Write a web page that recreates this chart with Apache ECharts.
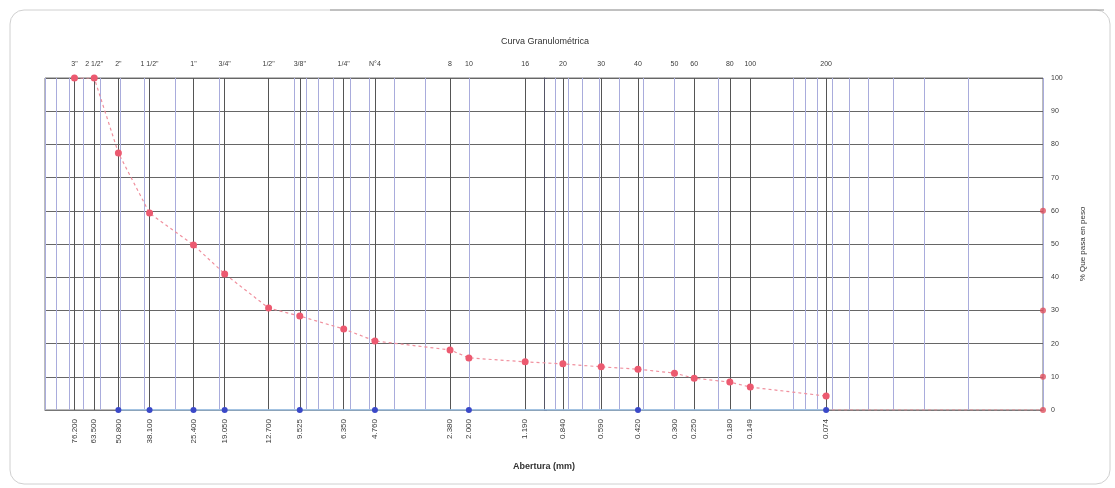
<!DOCTYPE html>
<html>
<head>
<meta charset="utf-8">
<script src="https://cdn.jsdelivr.net/npm/echarts@6/dist/echarts.min.js"></script>
<style>
html,body{margin:0;padding:0;background:#fff;}
#c{width:1115px;height:488px;}
</style>
</head>
<body>
<div id="c"></div>
<script>
// Sieve openings (mm)
const sizes = [76.2, 63.5, 50.8, 38.1, 25.4, 19.05, 12.7, 9.525, 6.35, 4.76, 2.38, 2.0, 1.19, 0.84, 0.59, 0.42, 0.3, 0.25, 0.18, 0.149, 0.074];
// Sieve names (top axis)
const sieveNames = ['3"', '2 1/2"', '2"', '1 1/2"', '1"', '3/4"', '1/2"', '3/8"', '1/4"', 'N°4', '8', '10', '16', '20', '30', '40', '50', '60', '80', '100', '200'];
// % passing (red curve)
const pctPassing = [100, 100, 77.4, 59.3, 49.7, 41, 30.7, 28.3, 24.4, 20.8, 18.1, 15.7, 14.5, 13.9, 13, 12.3, 11.1, 9.6, 8.4, 6.9, 4.2];
// Blue series (sizes and values)
const blueSizes = [50.8, 38.1, 25.4, 19.05, 9.525, 4.76, 2.0, 0.42, 0.074];
const blueValues = [0, 0, 0, 0, 0, 0, 0, 0, 0];
// Reference markers on the right edge
const refSize = 0.01;
const refValues = [60, 30, 10, 0];
// Base line from last sieve to right edge
const baseSizes = [0.074, 0.01];
const baseValues = [0, 0];
// Axis range (mm)
const xMinMm = 0.01, xMaxMm = 100;
// Minor log grid multipliers
const minorMult = [1, 2, 3, 4, 5, 6, 7, 8, 9];
const decades = [-2, -1, 0, 1];

const L = Math.log10;
const sizesLog = sizes.map(L);
const minorLog = [];
decades.forEach(d => minorMult.forEach(m => minorLog.push(L(m * Math.pow(10, d)))));
minorLog.push(2);

function nearestIdx(v) {
  let best = -1, bd = 1e9;
  sizesLog.forEach((s, i) => { const d = Math.abs(s - v); if (d < bd) { bd = d; best = i; } });
  return bd < 1e-4 ? best : -1;
}

const chart = echarts.init(document.getElementById('c'));
const labelColor = '#3a3a3a';
chart.setOption({
  backgroundColor: '#fff',
  animation: false,
  title: {
    text: 'Curva Granulométrica',
    left: 540, top: 32, textAlign: 'center',
    textStyle: { fontSize: 9, fontWeight: 'normal', color: '#333', fontFamily: 'Liberation Sans, Arial' }
  },
  graphic: [
    { type: 'rect', shape: { x: 10, y: 10, width: 1100, height: 474, r: 14 },
      style: { fill: 'none', stroke: '#d0d0d0', lineWidth: 1 } },
    { type: 'line', shape: { x1: 330, y1: 10, x2: 1104, y2: 10 },
      style: { stroke: '#999', lineWidth: 1.2 } }
  ],
  grid: { left: 45, right: 72, top: 78, bottom: 78, show: true, borderColor: '#777', borderWidth: 1 },
  xAxis: [
    {
      type: 'value', position: 'bottom', min: L(xMinMm), max: L(xMaxMm), inverse: true,
      name: 'Abertura (mm)', nameLocation: 'middle', nameGap: 52,
      nameTextStyle: { fontSize: 9, fontWeight: 'bold', color: '#333', fontFamily: 'Liberation Sans, Arial' },
      axisLine: { show: true, lineStyle: { color: '#777' } },
      axisTick: { show: false, customValues: sizesLog },
      axisLabel: {
        customValues: sizesLog, rotate: 90, fontSize: 8, color: labelColor, margin: 9,
        fontFamily: 'Liberation Sans, Arial',
        formatter: v => Math.pow(10, v).toFixed(3)
      },
      splitLine: { show: true, lineStyle: { color: '#555', width: 1 } }
    },
    {
      type: 'value', position: 'top', min: L(xMinMm), max: L(xMaxMm), inverse: true,
      axisLine: { show: false },
      axisTick: { show: false, customValues: minorLog },
      axisLabel: {
        customValues: sizesLog, fontSize: 7, color: labelColor, margin: 10,
        fontFamily: 'Liberation Sans, Arial',
        formatter: v => { const i = nearestIdx(v); return i >= 0 ? sieveNames[i] : ''; }
      },
      splitLine: { show: true, lineStyle: { color: '#a9acdc', width: 1 } }
    }
  ],
  yAxis: {
    type: 'value', position: 'right', min: 0, max: 100, interval: 10,
    name: '% Que pasa en peso', nameLocation: 'middle', nameGap: 36, nameRotate: 90,
    nameTextStyle: { fontSize: 8, color: '#333', fontFamily: 'Liberation Sans, Arial' },
    axisLine: { show: true, lineStyle: { color: '#556' } },
    axisTick: { show: true, length: 3, lineStyle: { color: '#556' } },
    axisLabel: { fontSize: 7, color: labelColor, margin: 8, fontFamily: 'Liberation Sans, Arial' },
    splitLine: { show: true, lineStyle: { color: '#666', width: 1.2 } }
  },
  series: [
    {
      name: 'Base', type: 'line', xAxisIndex: 0,
      data: baseSizes.map((s, i) => [L(s), baseValues[i]]),
      symbol: 'none',
      lineStyle: { color: '#e88a94', width: 1, type: [3, 3] }
    },
    {
      name: 'Azul', type: 'line', xAxisIndex: 0,
      data: blueSizes.map((s, i) => [L(s), blueValues[i]]),
      symbol: 'circle', symbolSize: 6,
      itemStyle: { color: '#3a48c8' },
      lineStyle: { color: '#9cc6f0', width: 1.5 }
    },
    {
      name: 'Granulometría', type: 'line', xAxisIndex: 0,
      data: sizes.map((s, i) => [L(s), pctPassing[i]]),
      symbol: 'circle', symbolSize: 7,
      itemStyle: { color: '#ec5a70' },
      lineStyle: { color: '#f0909e', width: 1.2, type: [3, 3] }
    },
    {
      name: 'Ref', type: 'scatter', xAxisIndex: 0,
      data: refValues.map(v => [L(refSize), v]),
      symbol: 'circle', symbolSize: 6,
      itemStyle: { color: '#e0505e' }
    }
  ]
});
</script>
</body>
</html>
